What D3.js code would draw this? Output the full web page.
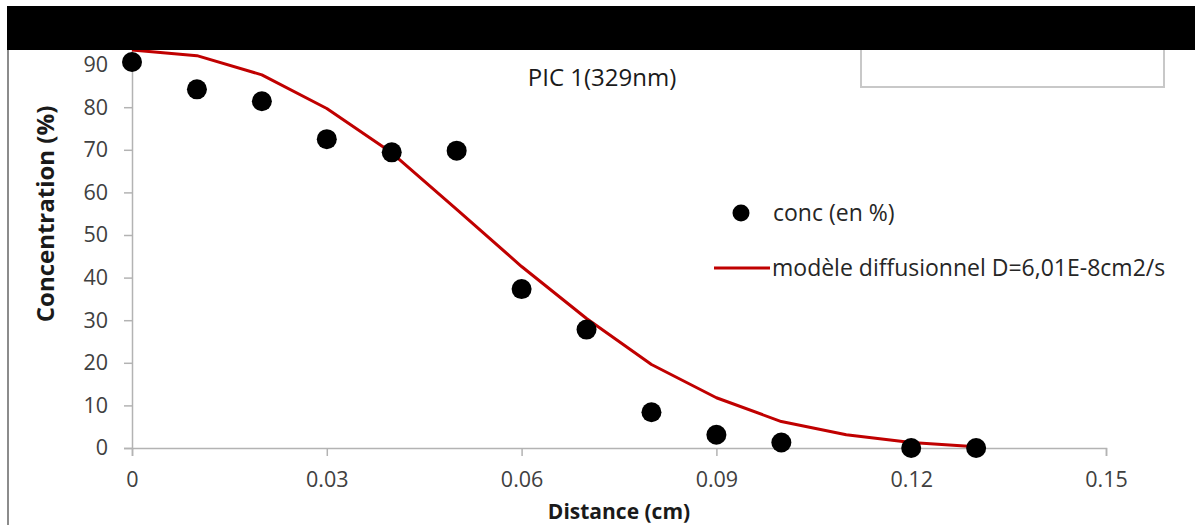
<!DOCTYPE html>
<html lang="fr">
    <head>
        <meta charset="utf-8">
        <title>PIC 1(329nm)</title>
        <script src="https://d3js.org/d3.v7.min.js"></script>
        <style type="text/css">
          body { margin: 0; background: #fff; }
          svg { width: 1195px; height: 525px; display: block; }
          text { font-family: "Open Sans", "Noto Sans", sans-serif; fill: #404040; }
          .axtitle { font-weight: bold; fill: #1a1a1a; }
          .title { font-size: 24px; fill: #1a1a1a; }
          .leg { font-size: 23px; fill: #262626; }
        </style>
    </head>
    <body>
        <svg></svg>
        <script type="text/javascript">

        // measured points (conc en %)
        const distances = [0, 0.01, 0.02, 0.03, 0.04, 0.05, 0.06, 0.07, 0.08, 0.09, 0.10, 0.12, 0.13];
        const conc = [90.6, 84.2, 81.4, 72.5, 69.4, 69.8, 37.3, 27.8, 8.4, 3.1, 1.3, 0, 0];

        // diffusion model curve
        const modelX = [0, 0.01, 0.02, 0.03, 0.04, 0.05, 0.06, 0.07, 0.08, 0.09, 0.10, 0.11, 0.12, 0.13];
        const modelY = [93.4, 92.1, 87.6, 79.7, 69.3, 56.0, 42.6, 30.4, 19.6, 11.8, 6.2, 3.1, 1.3, 0.3];

        const xTicks = [0, 0.03, 0.06, 0.09, 0.12, 0.15];
        const yTicks = [0, 10, 20, 30, 40, 50, 60, 70, 80, 90, 100];

        const svg = d3.select("svg");

        const x = d3.scaleLinear().domain([0, 0.15]).range([132, 1106]);
        const y = d3.scaleLinear().domain([0, 100]).range([448, 22]);

        // left frame line
        svg.append("line")
           .attr("x1", 8).attr("x2", 8).attr("y1", 40).attr("y2", 525)
           .attr("stroke", "#8c8c8c").attr("stroke-width", 2);

        // axes
        const xAxis = svg.append("g")
           .attr("transform", "translate(0," + y(0) + ")")
           .call(d3.axisBottom(x).tickValues(xTicks).tickSize(8).tickPadding(16)
                 .tickFormat(d => d === 0 ? "0" : d3.format(".2f")(d)));

        const yAxis = svg.append("g")
           .attr("transform", "translate(" + x(0) + ",0)")
           .call(d3.axisLeft(y).tickValues(yTicks).tickSize(8).tickPadding(16));

        [xAxis, yAxis].forEach(a => {
          a.attr("font-family", null).attr("font-size", null);
          a.select(".domain").attr("stroke", "#b3b3b3").attr("stroke-width", 1.5);
          a.selectAll(".tick line").attr("stroke", "#b3b3b3").attr("stroke-width", 1.5);
          a.selectAll(".tick text").attr("fill", "#404040").style("font-size", "21.5px");
        });

        // model line
        const line = d3.line().x((d, i) => x(modelX[i])).y(d => y(d));
        svg.append("path")
           .attr("d", line(modelY))
           .attr("fill", "none")
           .attr("stroke", "#c00000")
           .attr("stroke-width", 3)
           .attr("stroke-linejoin", "round");

        // points
        svg.append("g").selectAll("circle")
           .data(conc)
           .join("circle")
           .attr("cx", (d, i) => x(distances[i]))
           .attr("cy", d => y(d))
           .attr("r", 10)
           .attr("fill", "#000");

        // title
        svg.append("text")
           .attr("class", "title")
           .attr("x", 602).attr("y", 77).attr("dy", "0.36em")
           .attr("text-anchor", "middle")
           .text("PIC 1(329nm)");

        // axis titles
        svg.append("text")
           .attr("class", "axtitle")
           .attr("x", 619).attr("y", 511).attr("dy", "0.36em")
           .attr("text-anchor", "middle")
           .style("font-size", "21px")
           .text("Distance (cm)");

        svg.append("text")
           .attr("class", "axtitle")
           .attr("transform", "translate(45,214) rotate(-90)")
           .attr("dy", "0.36em")
           .attr("text-anchor", "middle")
           .style("font-size", "24px")
           .text("Concentration (%)");

        // legend
        svg.append("circle")
           .attr("cx", 741).attr("cy", 213).attr("r", 8.5).attr("fill", "#000");
        svg.append("text")
           .attr("class", "leg")
           .attr("x", 773).attr("y", 213).attr("dy", "0.36em")
           .text("conc (en %)");
        svg.append("line")
           .attr("x1", 714).attr("x2", 770).attr("y1", 268).attr("y2", 268)
           .attr("stroke", "#c00000").attr("stroke-width", 3);
        svg.append("text")
           .attr("class", "leg")
           .attr("x", 772).attr("y", 268).attr("dy", "0.36em")
           .text("modèle diffusionnel D=6,01E-8cm2/s");

        // empty box, top right
        svg.append("rect")
           .attr("x", 861).attr("y", 30).attr("width", 303).attr("height", 57)
           .attr("fill", "none").attr("stroke", "#c8c8c8").attr("stroke-width", 2);

        // black band on top
        svg.append("rect")
           .attr("x", 7).attr("y", 6).attr("width", 1188).attr("height", 44)
           .attr("fill", "#000");

        </script>
    </body>
</html>
